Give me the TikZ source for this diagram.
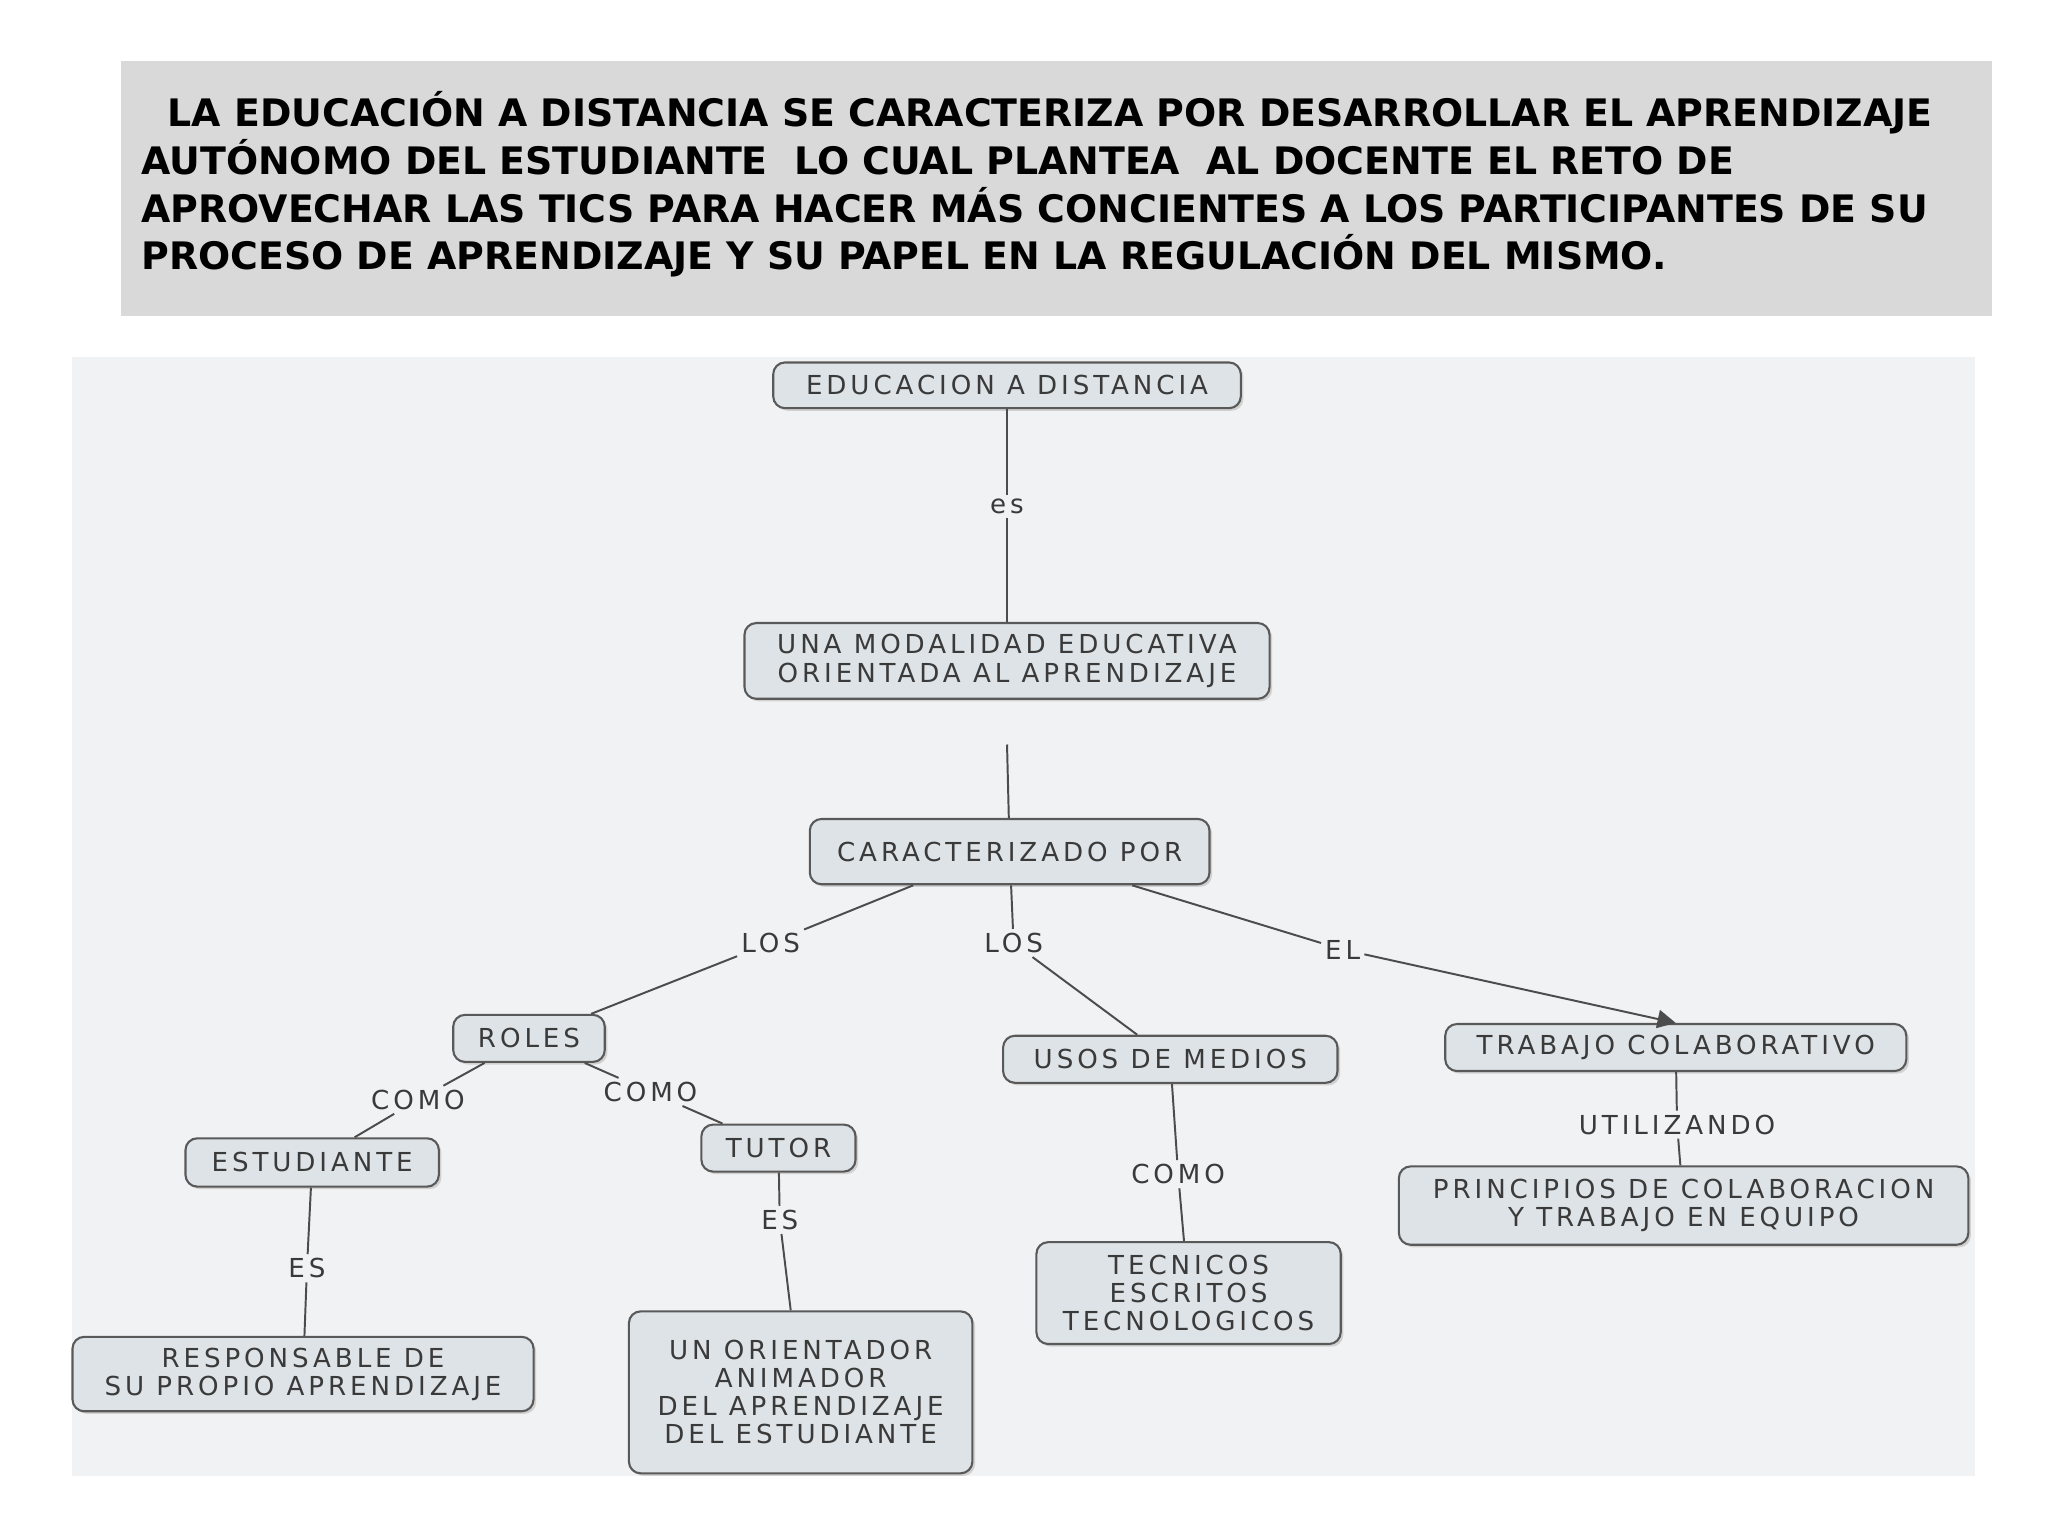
\documentclass[tikz,border=0pt]{standalone}
\usepackage{fontspec}
\setmainfont{DejaVu Sans}
\newfontfamily\nf[LetterSpace=15]{DejaVu Sans}
\usetikzlibrary{shadows,arrows.meta}
\definecolor{hdr}{HTML}{D9D9D9}
\definecolor{bgc}{HTML}{F1F2F3}
\definecolor{nfill}{HTML}{DDE3E6}
\definecolor{ntext}{HTML}{3A3A3A}
\tikzset{
 cbox/.style={draw=black!65,line width=1.6pt,fill=nfill,rounded corners=9pt,text=ntext,align=center,font=\nf\fontsize{20}{21.5}\selectfont,inner xsep=14pt,inner ysep=7pt,drop shadow={shadow xshift=2pt,shadow yshift=-2pt,fill=black!30}},
 lbl/.style={text=ntext,font=\nf\fontsize{20}{20}\selectfont,inner sep=3pt},
 cn/.style={draw=black!70,line width=1.5pt}
}
\begin{document}
\begin{tikzpicture}[x=1pt,y=-1pt]
\useasboundingbox (0,0) rectangle (1568,1176);
\fill[white] (0,0) rectangle (1568,1176);
\fill[hdr] (93,47) rectangle (1525,242);
\node[anchor=north west,align=left,font=\bfseries\fontsize{29}{36.5}\selectfont,inner sep=0pt] (hd) at (108,70)
 {\ \ LA EDUCACIÓN A DISTANCIA SE CARACTERIZA POR DESARROLLAR EL APRENDIZAJE\\
 AUTÓNOMO DEL ESTUDIANTE\ \ LO CUAL PLANTEA\ \ AL DOCENTE EL RETO DE\\
 APROVECHAR LAS TICS PARA HACER MÁS CONCIENTES A LOS PARTICIPANTES DE SU\\
 PROCESO DE APRENDIZAJE Y SU PAPEL EN LA REGULACIÓN DEL MISMO.};
\fill[bgc] (55,273) rectangle (1512,1130);
\node[cbox,minimum width=358pt,minimum height=35pt] (edu) at (771,295) {EDUCACION A DISTANCIA};
\node[cbox,minimum width=402pt,minimum height=58pt] (una) at (771,506) {UNA MODALIDAD EDUCATIVA\\ORIENTADA AL APRENDIZAJE};
\node[cbox,minimum width=306pt,minimum height=50pt] (car) at (773,652) {CARACTERIZADO POR};
\node[cbox,minimum width=116pt,minimum height=36pt] (rol) at (405,795) {ROLES};
\node[cbox,minimum width=256pt,minimum height=36pt] (uso) at (896,811) {USOS DE MEDIOS};
\node[cbox,minimum width=353pt,minimum height=36pt] (tra) at (1283,802) {TRABAJO COLABORATIVO};
\node[cbox,minimum width=194pt,minimum height=37pt] (est) at (239,890) {ESTUDIANTE};
\node[cbox,minimum width=118pt,minimum height=36pt] (tut) at (596,879) {TUTOR};
\node[cbox,minimum width=436pt,minimum height=60pt] (pri) at (1289,923) {PRINCIPIOS DE COLABORACION\\Y TRABAJO EN EQUIPO};
\node[cbox,minimum width=353pt,minimum height=57pt] (res) at (232,1052) {RESPONSABLE DE\\SU PROPIO APRENDIZAJE};
\node[cbox,minimum width=263pt,minimum height=124pt] (uno) at (613,1066) {UN ORIENTADOR\\ANIMADOR\\DEL APRENDIZAJE\\DEL ESTUDIANTE};
\node[cbox,minimum width=233pt,minimum height=78pt] (tec) at (910,990) {TECNICOS\\ESCRITOS\\TECNOLOGICOS};
\node[lbl] (l1) at (771,388) {es};
\node[lbl] (l2) at (590,722) {LOS};
\node[lbl] (l3) at (776,722) {LOS};
\node[lbl] (l4) at (1028,727) {EL};
\node[lbl] (l5) at (320,842) {COMO};
\node[lbl] (l6) at (498,836) {COMO};
\node[lbl] (l7) at (235,971) {ES};
\node[lbl] (l8) at (597,934) {ES};
\node[lbl] (l9) at (902,899) {COMO};
\node[lbl] (l10) at (1284,861) {UTILIZANDO};
\draw[cn] (edu) -- (l1) -- (una);
\draw[cn] (771,570) -- (car);
\draw[cn] (car.south west)++(80,0) -- (l2) -- (rol);
\draw[cn] (car) -- (l3) -- (uso);
\draw[cn] (car.south east)++(-60,0) -- (l4);
\draw[cn,-{Triangle[length=14pt,width=14pt]}] (l4) -- (tra.north);
\draw[cn] (rol) -- (l5) -- (est);
\draw[cn] (rol) -- (l6) -- (tut);
\draw[cn] (est) -- (l7) -- (res);
\draw[cn] (tut) -- (l8) -- (uno);
\draw[cn] (uso) -- (l9) -- (tec);
\draw[cn] (tra) -- (l10) -- (pri);
\end{tikzpicture}
\end{document}
